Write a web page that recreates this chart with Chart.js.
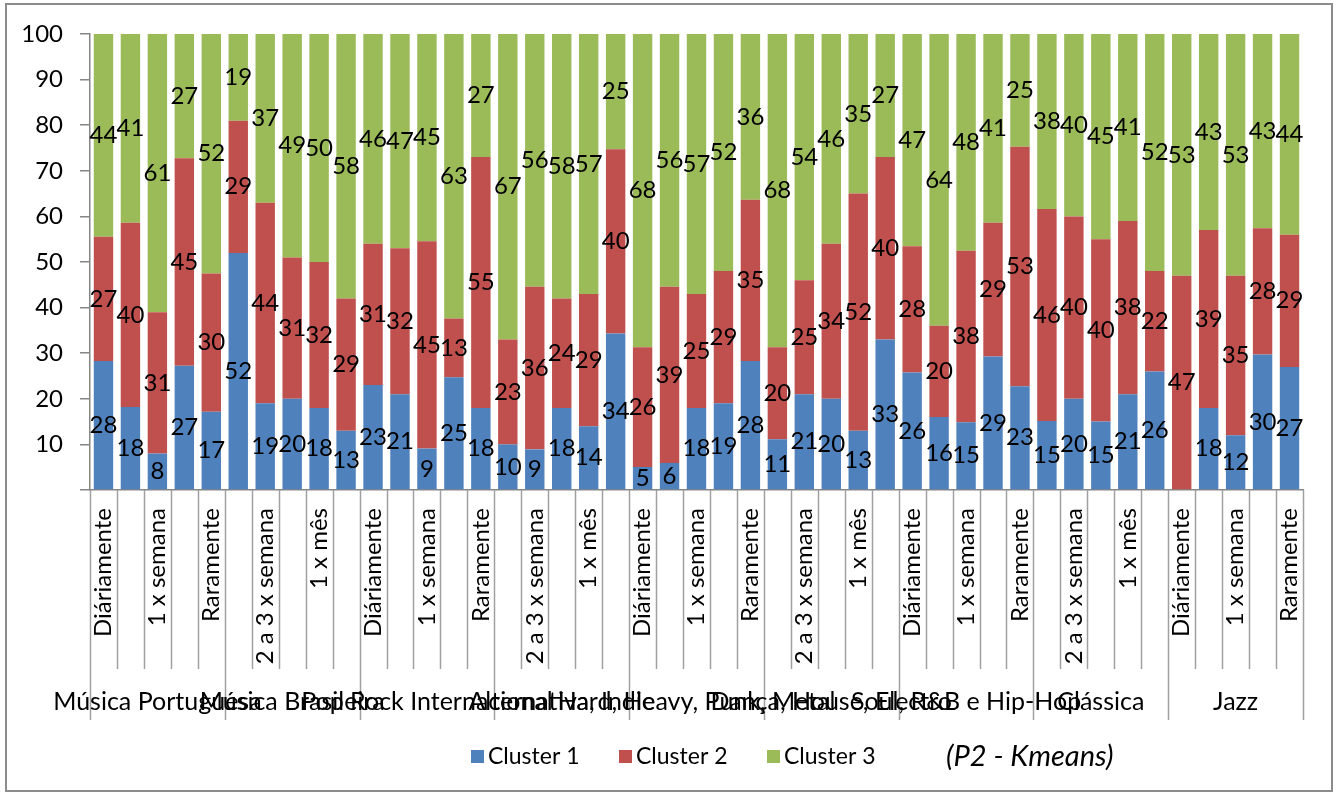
<!DOCTYPE html>
<html lang="pt">

<head>
    <meta charset="UTF-8">
    <title>Clusters por género musical e frequência (P2 - Kmeans)</title>
    <style>
        html, body {
            margin: 0;
            padding: 0;
            background: #ffffff;
        }
    </style>
</head>

<body>

    <canvas id="myChart" width="1337" height="794"></canvas>

    <script src="https://cdn.jsdelivr.net/npm/chart.js@4"></script>

    <script>
        // Groups on the category axis and the frequency answers inside each group
        const genres = ['Música Portuguesa', 'Música Brasileira', 'Pop Rock Internacional', 'Alternativa, Indie',
            'Hard, Heavy, Punk, Metal', 'Dança, House, Electro', 'Soul, R&B e Hip-Hop', 'Clássica', 'Jazz'];
        const frequencies = ['Diáriamente', '2 a 3 x semana', '1 x semana', '1 x mês', 'Raramente'];

        // Percentage of each cluster, 5 frequencies per genre
        const cluster1 = [28, 18, 8, 27, 17, 52, 19, 20, 18, 13, 23, 21, 9, 25, 18, 10, 9, 18, 14, 34, 5, 6, 18, 19, 28,
            11, 21, 20, 13, 33, 26, 16, 15, 29, 23, 15, 20, 15, 21, 26, 0, 18, 12, 30, 27];
        const cluster2 = [27, 40, 31, 45, 30, 29, 44, 31, 32, 29, 31, 32, 45, 13, 55, 23, 36, 24, 29, 40, 26, 39, 25, 29, 35,
            20, 25, 34, 52, 40, 28, 20, 38, 29, 53, 46, 40, 40, 38, 22, 47, 39, 35, 28, 29];
        const cluster3 = [44, 41, 61, 27, 52, 19, 37, 49, 50, 58, 46, 47, 45, 63, 27, 67, 56, 58, 57, 25, 68, 56, 57, 52, 36,
            68, 54, 46, 35, 27, 47, 64, 48, 41, 25, 38, 40, 45, 41, 52, 53, 43, 53, 43, 44];

        const seriesNames = ['Cluster 1', 'Cluster 2', 'Cluster 3'];
        const seriesColors = ['#4f81bd', '#c0504d', '#9bbb59'];
        const note = '(P2 - Kmeans)';

        const FONT = 'Lato, "Open Sans", sans-serif';
        const AXIS_GREY = '#868686';

        // one category per genre/frequency pair
        const labels = [];
        genres.forEach(g => frequencies.forEach(f => labels.push(f)));

        // the bars are stacked to 100%, like the spreadsheet chart
        const raw = [cluster1, cluster2, cluster3];
        const totals = cluster1.map((v, i) => v + cluster2[i] + cluster3[i]);
        const datasets = raw.map((values, d) => ({
            label: seriesNames[d],
            data: values.map((v, i) => v / totals[i] * 100),
            backgroundColor: seriesColors[d],
            borderWidth: 0,
            barPercentage: 0.72,
            categoryPercentage: 1
        }));

        // value labels in the middle of each segment
        const valueLabels = {
            id: 'valueLabels',
            afterDatasetsDraw(chart) {
                const ctx = chart.ctx;
                ctx.save();
                ctx.font = '24px ' + FONT;
                ctx.fillStyle = '#000';
                ctx.textAlign = 'center';
                ctx.textBaseline = 'middle';
                chart.data.datasets.forEach((ds, d) => {
                    chart.getDatasetMeta(d).data.forEach((bar, i) => {
                        const v = raw[d][i];
                        if (!v) return;
                        ctx.fillText(String(v), bar.x, (bar.y + bar.base) / 2);
                    });
                });
                ctx.restore();
            }
        };

        // two-level category axis, legend and frame
        const decorations = {
            id: 'decorations',
            afterDraw(chart) {
                const ctx = chart.ctx;
                const xs = chart.scales.x;
                const bottom = chart.chartArea.bottom;
                const step = xs.getPixelForValue(1) - xs.getPixelForValue(0);

                ctx.save();

                // separators between categories, longer ones between genres
                ctx.strokeStyle = '#a0a0a0';
                ctx.lineWidth = 1.5;
                for (let i = 0; i <= labels.length; i++) {
                    const x = Math.round(xs.getPixelForValue(i) - step / 2) + 0.5;
                    ctx.beginPath();
                    ctx.moveTo(x, bottom);
                    ctx.lineTo(x, i % frequencies.length === 0 ? 720 : 669);
                    ctx.stroke();
                }

                // frequency labels, every second category
                ctx.fillStyle = '#000';
                ctx.font = '24px ' + FONT;
                ctx.textAlign = 'right';
                ctx.textBaseline = 'middle';
                labels.forEach((lab, i) => {
                    if (i % 2) return;
                    ctx.save();
                    ctx.translate(xs.getPixelForValue(i), 508);
                    ctx.rotate(-Math.PI / 2);
                    ctx.fillText(lab, 0, 0);
                    ctx.restore();
                });

                // genre labels centred under their five bars
                ctx.font = '25px ' + FONT;
                ctx.textAlign = 'center';
                genres.forEach((g, k) => {
                    const first = xs.getPixelForValue(k * frequencies.length);
                    const last = xs.getPixelForValue(k * frequencies.length + frequencies.length - 1);
                    ctx.fillText(g, (first + last) / 2, 702);
                });

                // legend
                ctx.font = '23px ' + FONT;
                ctx.textAlign = 'left';
                const ly = 757;
                seriesNames.forEach((name, d) => {
                    const lx = 471 + d * 148;
                    ctx.fillStyle = seriesColors[d];
                    ctx.fillRect(lx, ly - 7, 13, 13);
                    ctx.fillStyle = '#000';
                    ctx.fillText(name, lx + 17, ly);
                });
                ctx.font = 'italic 29px ' + FONT;
                ctx.fillText(note, 946, ly);

                // outer frame
                ctx.strokeStyle = '#8c8c8c';
                ctx.lineWidth = 2;
                ctx.strokeRect(6, 4, 1326, 787);

                ctx.restore();
            }
        };

        const ctx = document.getElementById('myChart').getContext('2d');
        const myChart = new Chart(ctx, {
            type: 'bar',
            data: {
                labels: labels,
                datasets: datasets
            },
            options: {
                responsive: false,
                animation: false,
                layout: {
                    padding: { left: 6, top: 34, right: 34, bottom: 0 }
                },
                plugins: {
                    legend: { display: false },
                    tooltip: { enabled: false }
                },
                scales: {
                    x: {
                        stacked: true,
                        ticks: { display: false },
                        grid: { drawOnChartArea: false, drawTicks: false },
                        border: { display: true, color: AXIS_GREY, width: 1.5 },
                        afterFit(scale) { scale.height = 304; }
                    },
                    y: {
                        stacked: true,
                        min: 0,
                        max: 100,
                        ticks: {
                            stepSize: 10,
                            padding: 17,
                            color: '#000',
                            font: { family: FONT, size: 24 },
                            callback: v => (v === 0 ? '' : v)
                        },
                        grid: { drawOnChartArea: false, tickLength: 10, color: AXIS_GREY, lineWidth: 1.5 },
                        border: { color: AXIS_GREY, width: 1.5 },
                        afterFit(scale) { scale.width = 84; }
                    }
                }
            },
            plugins: [valueLabels, decorations]
        });
    </script>

</body>

</html>
